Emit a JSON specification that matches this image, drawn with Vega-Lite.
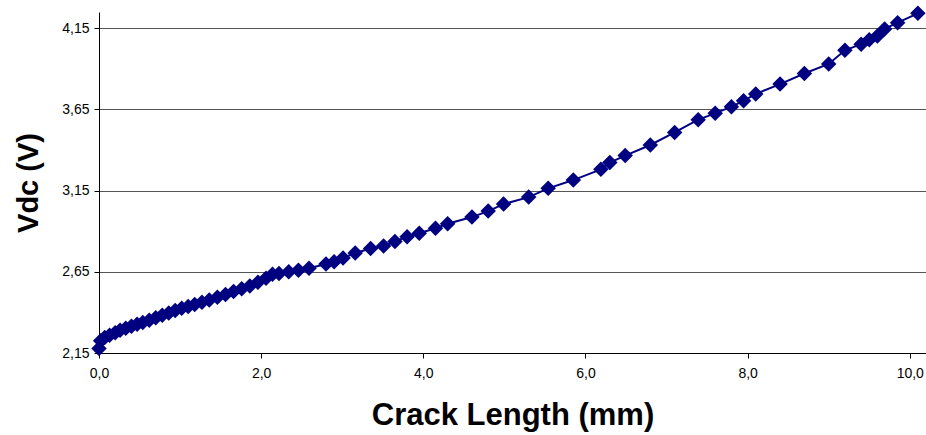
{
  "$schema": "https://vega.github.io/schema/vega-lite/v6.json",
  "width": 827,
  "height": 341,
  "autosize": {"type": "none"},
  "padding": {"left": 99, "top": 12, "right": 0, "bottom": 82},
  "background": "white",
  "config": {
    "view": {"stroke": null},
    "axis": {
      "labelFont": "Liberation Sans",
      "labelFontSize": 14,
      "labelColor": "#000000",
      "titleFont": "Liberation Sans",
      "titleFontWeight": "bold",
      "titleFontSize": 31,
      "titleColor": "#000000",
      "domainColor": "#000000",
      "domainWidth": 1,
      "tickColor": "#000000",
      "tickSize": 5,
      "gridColor": "#555555",
      "gridWidth": 1,
      "gridOpacity": 1
    }
  },
  "data": {
    "values": [
      {"x": 0.00, "v": 2.178},
      {"x": 0.02, "v": 2.225},
      {"x": 0.07, "v": 2.245},
      {"x": 0.13, "v": 2.260},
      {"x": 0.20, "v": 2.275},
      {"x": 0.26, "v": 2.290},
      {"x": 0.33, "v": 2.302},
      {"x": 0.40, "v": 2.315},
      {"x": 0.47, "v": 2.327},
      {"x": 0.54, "v": 2.338},
      {"x": 0.62, "v": 2.352},
      {"x": 0.70, "v": 2.367},
      {"x": 0.78, "v": 2.382},
      {"x": 0.86, "v": 2.397},
      {"x": 0.94, "v": 2.412},
      {"x": 1.02, "v": 2.425},
      {"x": 1.10, "v": 2.437},
      {"x": 1.18, "v": 2.449},
      {"x": 1.27, "v": 2.463},
      {"x": 1.36, "v": 2.477},
      {"x": 1.46, "v": 2.493},
      {"x": 1.56, "v": 2.510},
      {"x": 1.66, "v": 2.528},
      {"x": 1.76, "v": 2.546},
      {"x": 1.86, "v": 2.563},
      {"x": 1.96, "v": 2.585},
      {"x": 2.06, "v": 2.610},
      {"x": 2.14, "v": 2.635},
      {"x": 2.22, "v": 2.640},
      {"x": 2.34, "v": 2.650},
      {"x": 2.46, "v": 2.660},
      {"x": 2.59, "v": 2.672},
      {"x": 2.80, "v": 2.698},
      {"x": 2.90, "v": 2.712},
      {"x": 3.01, "v": 2.735},
      {"x": 3.16, "v": 2.766},
      {"x": 3.35, "v": 2.794},
      {"x": 3.51, "v": 2.809},
      {"x": 3.65, "v": 2.837},
      {"x": 3.80, "v": 2.866},
      {"x": 3.95, "v": 2.887},
      {"x": 4.15, "v": 2.918},
      {"x": 4.30, "v": 2.946},
      {"x": 4.60, "v": 2.987},
      {"x": 4.80, "v": 3.024},
      {"x": 4.99, "v": 3.067},
      {"x": 5.30, "v": 3.110},
      {"x": 5.54, "v": 3.164},
      {"x": 5.85, "v": 3.215},
      {"x": 6.19, "v": 3.281},
      {"x": 6.30, "v": 3.323},
      {"x": 6.49, "v": 3.366},
      {"x": 6.80, "v": 3.431},
      {"x": 7.10, "v": 3.508},
      {"x": 7.39, "v": 3.587},
      {"x": 7.60, "v": 3.626},
      {"x": 7.80, "v": 3.667},
      {"x": 7.95, "v": 3.703},
      {"x": 8.10, "v": 3.745},
      {"x": 8.40, "v": 3.806},
      {"x": 8.70, "v": 3.871},
      {"x": 9.00, "v": 3.930},
      {"x": 9.20, "v": 4.014},
      {"x": 9.40, "v": 4.052},
      {"x": 9.50, "v": 4.079},
      {"x": 9.60, "v": 4.102},
      {"x": 9.69, "v": 4.146},
      {"x": 9.85, "v": 4.184},
      {"x": 10.10, "v": 4.242}
    ]
  },
  "encoding": {
    "x": {
      "field": "x",
      "type": "quantitative",
      "scale": {"domain": [0, 10.2], "nice": false, "zero": false},
      "axis": {
        "title": "Crack Length (mm)",
        "values": [0, 2, 4, 6, 8, 10],
        "grid": false,
        "labelFlush": false,
        "labelExpr": "replace(format(datum.value, '.1f'), '.', ',')",
        "labelPadding": 8,
        "titlePadding": 20
      }
    },
    "y": {
      "field": "v",
      "type": "quantitative",
      "scale": {"domain": [2.15, 4.25], "nice": false, "zero": false},
      "axis": {
        "title": "Vdc (V)",
        "titleFontSize": 29,
        "values": [2.15, 2.65, 3.15, 3.65, 4.15],
        "grid": true,
        "labelFlush": false,
        "labelExpr": "replace(format(datum.value, '.2f'), '.', ',')",
        "labelPadding": 5,
        "titlePadding": 18
      }
    }
  },
  "layer": [
    {"mark": {"type": "line", "color": "#000080", "strokeWidth": 2}},
    {"mark": {"type": "point", "shape": "diamond", "filled": true, "color": "#000080", "opacity": 1, "size": 240}}
  ]
}
